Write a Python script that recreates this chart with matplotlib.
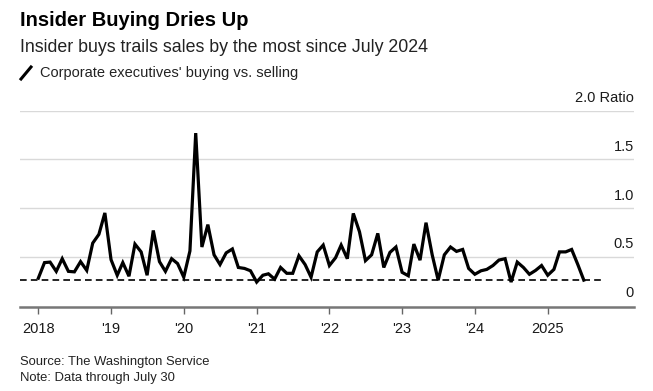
import matplotlib
matplotlib.use("Agg")
import matplotlib.pyplot as plt
import matplotlib.dates as mdates
from matplotlib.lines import Line2D
import matplotlib.transforms as mtransforms
import numpy as np
import pandas as pd

plt.rcParams["font.family"] = ["Liberation Sans", "DejaVu Sans"]

# monthly ratio of insider buying to selling, Jan 2018 - Jul 2025
ratio_2018 = [0.28, 0.44, 0.445, 0.35, 0.48, 0.35, 0.345, 0.45, 0.36, 0.64, 0.73, 0.95]
ratio_2019 = [0.47, 0.31, 0.44, 0.30, 0.63, 0.55, 0.31, 0.77, 0.45, 0.35, 0.48, 0.43]
ratio_2020 = [0.29, 0.56, 1.77, 0.60, 0.83, 0.52, 0.42, 0.54, 0.58, 0.39, 0.38, 0.356]
ratio_2021 = [0.24, 0.31, 0.325, 0.27, 0.39, 0.33, 0.33, 0.51, 0.42, 0.29, 0.55, 0.62]
ratio_2022 = [0.41, 0.49, 0.62, 0.48, 0.945, 0.757, 0.46, 0.52, 0.74, 0.39, 0.545, 0.60]
ratio_2023 = [0.34, 0.305, 0.63, 0.465, 0.85, 0.52, 0.26, 0.52, 0.60, 0.555, 0.575, 0.38]
ratio_2024 = [0.32, 0.356, 0.37, 0.41, 0.466, 0.48, 0.24, 0.445, 0.39, 0.32, 0.36, 0.41]
ratio_2025 = [0.31, 0.37, 0.55, 0.55, 0.575, 0.42, 0.26]

ratio = (ratio_2018 + ratio_2019 + ratio_2020 + ratio_2021 + ratio_2022
         + ratio_2023 + ratio_2024 + ratio_2025)
dates = pd.date_range("2018-01-01", periods=len(ratio), freq="MS")

year_ticks = pd.date_range("2018-01-01", "2025-01-01", freq="YS")
year_labels = ["2018", "'19", "'20", "'21", "'22", "'23", "'24", "2025"]
y_ticks = [0, 0.5, 1.0, 1.5, 2.0]
y_labels = ["0", "0.5", "1.0", "1.5", "2.0 Ratio"]

fig = plt.figure(figsize=(6.53, 3.91), dpi=100)
ax = fig.add_axes([20 / 653, 84 / 391, 614 / 653, 196.3 / 391])

ax.plot(dates, ratio, color="black", lw=2.3, solid_joinstyle="miter", zorder=3)

# dashed reference at latest reading
last = ratio[-1]
ax.plot([pd.Timestamp("2017-10-01"), dates[-1] + pd.DateOffset(months=3)],
        [last, last], color="black", lw=1.2, ls=(0, (4, 2.5)), zorder=2)

ax.set_xlim(pd.Timestamp("2017-10-01"), pd.Timestamp("2026-03-10"))
ax.set_ylim(-0.016, 2.0)

for v in y_ticks[1:]:
    ax.axhline(v, color="#d9d9d9", lw=1, zorder=1)

ax.set_xticks(year_ticks)
ax.set_xticklabels(year_labels, fontsize=10.5, color="#1a1a1a")
ax.tick_params(axis="x", length=5, width=1, color="#666666", pad=6)
ax.set_yticks([])

for s in ["top", "right", "left"]:
    ax.spines[s].set_visible(False)
ax.spines["bottom"].set_color("#777777")
ax.spines["bottom"].set_linewidth(1.8)

trans = mtransforms.blended_transform_factory(ax.transAxes, ax.transData)
off = mtransforms.offset_copy(trans, fig=fig, x=0, y=4, units="points")
for v, lab in zip(y_ticks, y_labels):
    ax.text(1.0, v, lab, transform=off, ha="right", va="bottom",
            fontsize=10.5, color="#1a1a1a")

fig.text(20 / 653, 1 - 20 / 391, "Insider Buying Dries Up", fontsize=14.5,
         fontweight="bold", va="center", ha="left")
fig.text(20 / 653, 1 - 47 / 391, "Insider buys trails sales by the most since July 2024",
         fontsize=12.8, va="center", ha="left", color="#222222")
fig.text(40 / 653, 1 - 73 / 391, "Corporate executives' buying vs. selling",
         fontsize=10.5, va="center", ha="left", color="#222222")
fig.add_artist(Line2D([21 / 653, 31 / 653], [1 - 79 / 391, 1 - 67 / 391],
                      color="black", lw=2.2, transform=fig.transFigure))

fig.text(20 / 653, 1 - 362 / 391, "Source: The Washington Service", fontsize=9.4,
         va="center", ha="left", color="#222222")
fig.text(20 / 653, 1 - 378 / 391, "Note: Data through July 30", fontsize=9.4,
         va="center", ha="left", color="#222222")

fig.savefig("out.png", dpi=100)
